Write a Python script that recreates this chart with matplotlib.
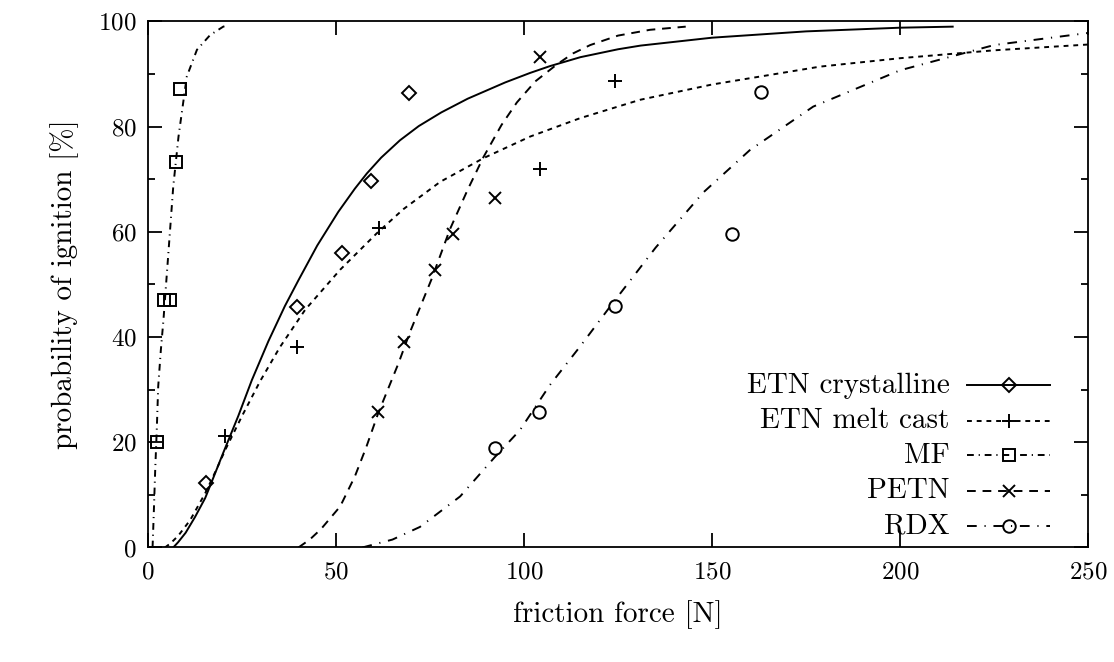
import matplotlib
matplotlib.use("Agg")
import matplotlib.pyplot as plt
from matplotlib.ticker import MultipleLocator

plt.rcParams["font.family"] = "serif"
plt.rcParams["font.serif"] = ["cmr10"]
plt.rcParams["mathtext.fontset"] = "cm"
plt.rcParams["axes.formatter.use_mathtext"] = True

# measured points
etn_cryst_x = [15.5, 39.5, 51.5, 59.2, 69.4]
etn_cryst_y = [12.3, 45.7, 55.9, 69.6, 86.3]
etn_melt_x = [20.5, 39.5, 61.3, 104.3, 124.2]
etn_melt_y = [21.1, 38.2, 60.7, 71.9, 88.7]
mf_x = [2.5, 4.3, 5.9, 7.4, 8.5]
mf_y = [20.1, 47.0, 47.0, 73.2, 87.1]
petn_x = [61.2, 68.1, 76.3, 81.2, 92.3, 104.3]
petn_y = [25.7, 39.1, 52.8, 59.6, 66.4, 93.3]
rdx_x = [92.3, 104.1, 124.2, 155.2, 163.0]
rdx_y = [18.9, 25.7, 45.9, 59.5, 86.5]

# fitted curves
etn_cryst_fx = [6.7, 8, 10, 12.5, 15.2, 17.5, 20, 24, 27.6, 32, 36.4, 40, 45, 50.6,
                55, 58.2, 62, 67, 72, 78, 85, 95, 101.6, 106.9, 115, 125, 131, 150, 175, 200, 214]
etn_cryst_fy = [0, 1, 2.8, 5.8, 9.4, 13.5, 18, 25, 31.8, 39.2, 45.9, 50.8, 57.4, 63.8,
                68.2, 71.1, 74.1, 77.4, 80.1, 82.7, 85.3, 88.4, 90.2, 91.5, 93.2, 94.7, 95.4,
                96.9, 98.1, 98.8, 99]
etn_melt_fx = [4.5, 6, 8, 11.2, 15.2, 18.3, 20.5, 25, 29.8, 35, 41.8, 51.1, 60.8, 67.9,
               77.7, 89.2, 101.6, 114.9, 130.9, 150, 178.7, 200, 225, 250]
etn_melt_fy = [0, 0.8, 2.2, 5.2, 10.3, 15, 18.5, 25, 31.6, 38, 45.2, 52.8, 59.7, 64.3,
               69.5, 74, 78.1, 81.6, 85.1, 88, 91.4, 93, 94.5, 95.6]
mf_fx = [1.2, 1.5, 1.9, 2.3, 2.7, 3.4, 4.1, 5.4, 6.7, 8.1, 10.3, 13, 16.5, 20, 21]
mf_fy = [0, 6, 14.7, 22, 30.6, 37.5, 43.3, 55.9, 68.6, 78.1, 89.5, 94.6, 97.4, 99, 99.2]
petn_fx = [40, 43, 46, 51.1, 55, 58, 61.2, 66.6, 69.7, 75.4, 80.3, 85, 89.2, 94, 98.1,
           103, 108.7, 113, 117.6, 125, 133.5, 143]
petn_fy = [0, 1.5, 3.5, 7.8, 13.5, 19, 25.5, 35, 41, 51, 60.5, 68, 74.2, 80.3, 84.6,
           88.6, 91.8, 93.9, 95.5, 97.3, 98.4, 99]
rdx_fx = [57, 65, 72.3, 83, 92, 98.9, 106.9, 114.9, 122.9, 135, 147.7, 160, 176.9,
          200, 225, 250]
rdx_fy = [0, 1.5, 3.9, 9.7, 17, 22.3, 30.9, 38.2, 45.8, 57, 67.5, 75.5, 83.8, 90.7, 95.5, 97.8]

series = [
    ("ETN crystalline", etn_cryst_x, etn_cryst_y, etn_cryst_fx, etn_cryst_fy, "D", 7, "-"),
    ("ETN melt cast", etn_melt_x, etn_melt_y, etn_melt_fx, etn_melt_fy, "+", 10, (0, (2.5, 2.5))),
    ("MF", mf_x, mf_y, mf_fx, mf_fy, "s", 9, (0, (3.5, 2.5, 0.6, 2.5))),
    ("PETN", petn_x, petn_y, petn_fx, petn_fy, "x", 9, (0, (4.5, 3.5))),
    ("RDX", rdx_x, rdx_y, rdx_fx, rdx_fy, "o", 9, (0, (5, 4, 0.6, 4))),
]

fig = plt.figure(figsize=(11.14, 6.62), dpi=100)
ax = fig.add_axes([0.1329, 0.173, 0.8438, 0.7947])

for name, px, py, fx, fy, mk, ms, ls in series:
    ax.plot(fx, fy, color="black", lw=1.4, linestyle=ls)
    ax.plot(px, py, linestyle="none", marker=mk, ms=ms, mfc="none", mec="black", mew=1.4)

ax.set_xlim(0, 250)
ax.set_ylim(0, 100)
ax.xaxis.set_major_locator(MultipleLocator(50))
ax.yaxis.set_major_locator(MultipleLocator(20))
ax.yaxis.set_minor_locator(MultipleLocator(10))
ax.tick_params(which="both", direction="in", top=True, right=True, width=1.3, labelsize=18)
ax.tick_params(which="major", length=10)
ax.tick_params(which="minor", length=5)
ax.tick_params(axis="x", pad=10)
ax.tick_params(axis="y", pad=8)
for s in ax.spines.values():
    s.set_linewidth(1.3)

ax.set_xlabel("friction force [N]", fontsize=21, labelpad=8)
ax.xaxis.set_label_coords(0.5, -0.1)
ax.set_ylabel("probability of ignition [%]", fontsize=21, labelpad=14)

# key drawn in axes coordinates, labels right-aligned as in the original
row_y = [0.308, 0.241, 0.175, 0.108, 0.041]
tx, hx0, hx1 = 0.853, 0.871, 0.960
for (name, px, py, fx, fy, mk, ms, ls), yy in zip(series, row_y):
    ax.text(tx, yy, name, transform=ax.transAxes, ha="right", va="center", fontsize=21)
    ax.plot([hx0, hx1], [yy, yy], transform=ax.transAxes, color="black", lw=1.4,
            linestyle=ls, clip_on=False)
    ax.plot([(hx0 + hx1) / 2], [yy], transform=ax.transAxes, linestyle="none",
            marker=mk, ms=ms, mfc="none", mec="black", mew=1.4, clip_on=False)

fig.savefig("out.png", dpi=100)
